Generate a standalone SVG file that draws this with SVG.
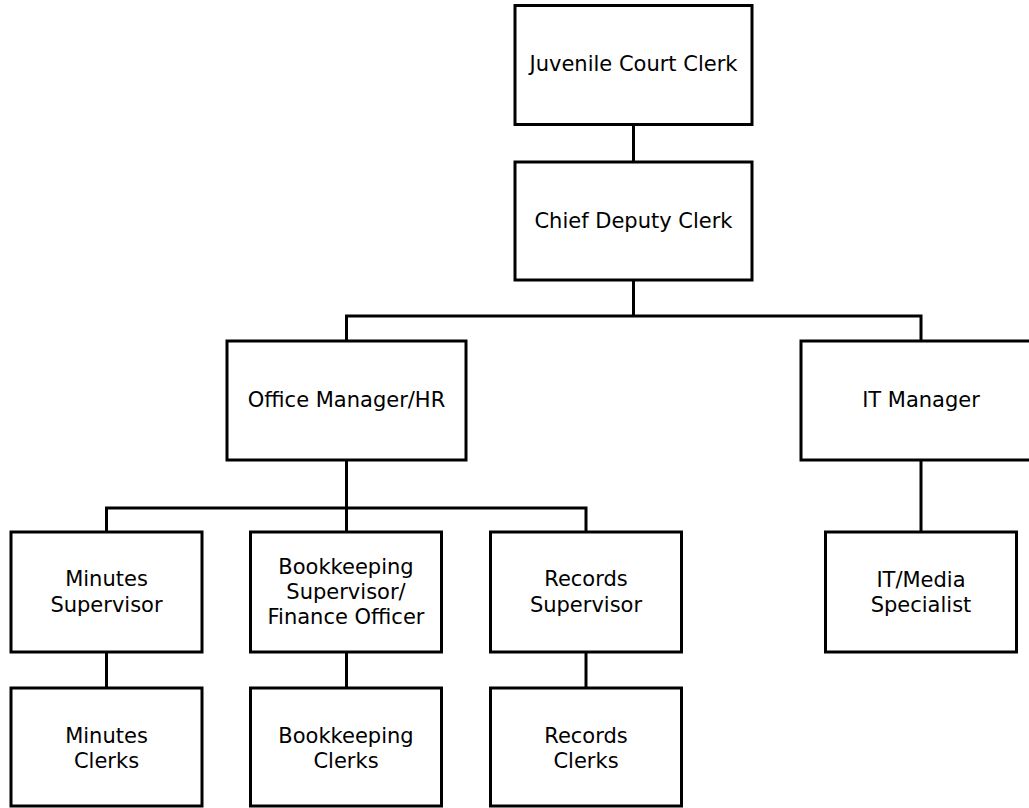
<svg xmlns="http://www.w3.org/2000/svg" width="1029" height="808" viewBox="0 0 1029 808">
<style>
.box{fill:#fff;stroke:#000;stroke-width:3}
.lbl{font-family:"DejaVu Sans",Verdana,sans-serif;font-size:21px;fill:#000;text-anchor:middle}
.conn{fill:none;stroke:#000;stroke-width:3;stroke-linejoin:miter}
</style>
<rect width="1029" height="808" fill="#fff"/>
<g id="connectors" class="conn">
<line x1="633.5" y1="124.5" x2="633.5" y2="162"/>
<line x1="633.5" y1="280" x2="633.5" y2="316"/>
<polyline points="346.5,341 346.5,316 921,316 921,341"/>
<line x1="346.5" y1="460" x2="346.5" y2="532"/>
<polyline points="106.5,532 106.5,508 586,508 586,532"/>
<line x1="921" y1="460" x2="921" y2="532"/>
<line x1="106.5" y1="652" x2="106.5" y2="688"/>
<line x1="346.5" y1="652" x2="346.5" y2="688"/>
<line x1="586" y1="652" x2="586" y2="688"/>
</g>
<g id="juvenile-court-clerk">
<rect class="box" x="515" y="5.5" width="237" height="119"/>
<text class="lbl" x="633.5" y="71">Juvenile Court Clerk</text>
</g>
<g id="chief-deputy-clerk">
<rect class="box" x="515" y="162" width="237" height="118"/>
<text class="lbl" x="633.5" y="228">Chief Deputy Clerk</text>
</g>
<g id="office-manager">
<rect class="box" x="227" y="341" width="239" height="119"/>
<text class="lbl" x="346.5" y="407">Office Manager/HR</text>
</g>
<g id="it-manager">
<rect class="box" x="801" y="341" width="239" height="119"/>
<text class="lbl" x="921" y="407">IT Manager</text>
</g>
<g id="minutes-supervisor">
<rect class="box" x="11" y="532" width="191" height="120"/>
<text class="lbl" x="106.5" y="586">Minutes</text>
<text class="lbl" x="106.5" y="612">Supervisor</text>
</g>
<g id="bookkeeping-supervisor">
<rect class="box" x="250.5" y="532" width="191" height="120"/>
<text class="lbl" x="346" y="574">Bookkeeping</text>
<text class="lbl" x="346" y="599">Supervisor/</text>
<text class="lbl" x="346" y="624">Finance Officer</text>
</g>
<g id="records-supervisor">
<rect class="box" x="490.5" y="532" width="191" height="120"/>
<text class="lbl" x="586" y="586">Records</text>
<text class="lbl" x="586" y="612">Supervisor</text>
</g>
<g id="it-media-specialist">
<rect class="box" x="825.5" y="532" width="191" height="120"/>
<text class="lbl" x="921" y="587">IT/Media</text>
<text class="lbl" x="921" y="612">Specialist</text>
</g>
<g id="minutes-clerks">
<rect class="box" x="11" y="688" width="191" height="118"/>
<text class="lbl" x="106.5" y="743">Minutes</text>
<text class="lbl" x="106.5" y="768">Clerks</text>
</g>
<g id="bookkeeping-clerks">
<rect class="box" x="250.5" y="688" width="191" height="118"/>
<text class="lbl" x="346" y="743">Bookkeeping</text>
<text class="lbl" x="346" y="768">Clerks</text>
</g>
<g id="records-clerks">
<rect class="box" x="490.5" y="688" width="191" height="118"/>
<text class="lbl" x="586" y="743">Records</text>
<text class="lbl" x="586" y="768">Clerks</text>
</g>
</svg>
